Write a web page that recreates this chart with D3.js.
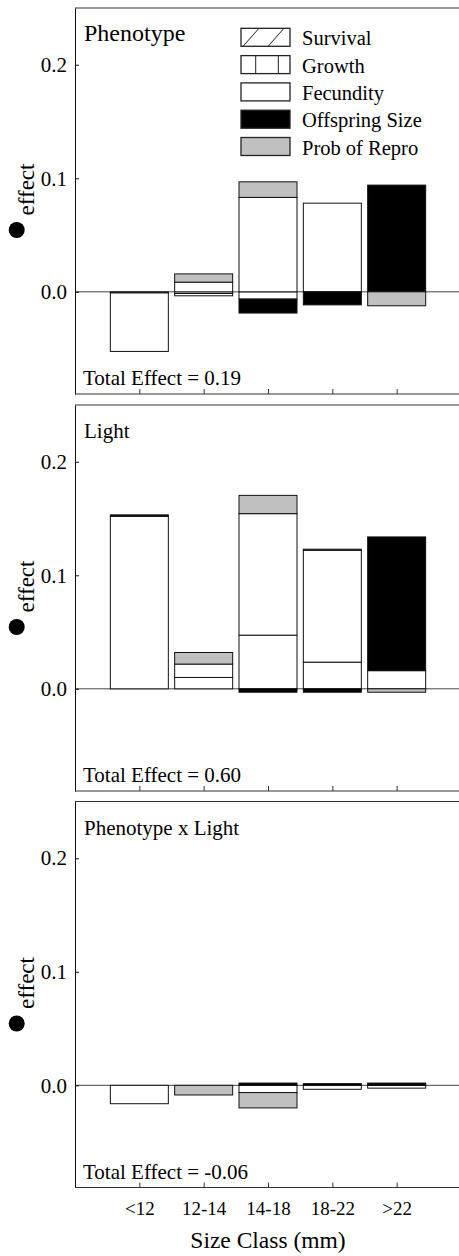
<!DOCTYPE html>
<html>
<head>
<meta charset="utf-8">
<script src="https://cdn.jsdelivr.net/npm/d3@7"></script>
<style>
  body { margin: 0; background: #fff; }
  svg, svg text { font-family: 'Liberation Serif', 'Tinos', 'Times New Roman', 'DejaVu Serif', serif; }
</style>
</head>
<body>
<div id="viz"></div>
<script>
const width = 459;
const height = 1256;
const fontStack = "'Liberation Serif', 'Tinos', 'Times New Roman', 'DejaVu Serif', serif";

// Data
const categories = ['<12', '12-14', '14-18', '18-22', '>22'];
const components = ['Survival', 'Growth', 'Fecundity', 'Offspring Size', 'Prob of Repro'];
const panelTitles = ['Phenotype', 'Light', 'Phenotype x Light'];
const totalEffects = ['0.19', '0.60', '-0.06'];
const yTicks = [0, 0.1, 0.2];

// Phenotype panel
const phenoSurvival  = [-0.001, -0.0015, 0, 0, 0];
const phenoGrowth    = [0, -0.002, -0.0064, 0, 0];
const phenoFecundity = [-0.0515, 0.0085, 0.0832, 0.0781, 0];
const phenoOffspring = [0, 0, -0.0123, -0.0115, 0.094];
const phenoRepro     = [0, 0.0073, 0.0137, 0, -0.0123];

// Light panel
const lightSurvival  = [0, 0, 0, 0, 0];
const lightGrowth    = [0, 0.010, 0.0473, 0.0235, 0];
const lightFecundity = [0.152, 0.0118, 0.107, 0.0985, 0.016];
const lightOffspring = [0.0012, 0, -0.003, -0.003, 0.1178];
const lightRepro     = [0, 0.0102, 0.0161, 0.001, -0.003];

// Phenotype x Light panel
const interSurvival  = [0, 0, 0, 0, 0];
const interGrowth    = [0, 0, 0, 0, 0];
const interFecundity = [-0.0162, 0, -0.0064, -0.0035, -0.0025];
const interOffspring = [0, 0, 0.002, 0.0015, 0.002];
const interRepro     = [0, -0.0085, -0.0135, 0, 0];

const panelSeries = [
  [phenoSurvival, phenoGrowth, phenoFecundity, phenoOffspring, phenoRepro],
  [lightSurvival, lightGrowth, lightFecundity, lightOffspring, lightRepro],
  [interSurvival, interGrowth, interFecundity, interOffspring, interRepro]
];

const fills = {
  'Survival': '#fff',
  'Growth': '#fff',
  'Fecundity': '#fff',
  'Offspring Size': '#000',
  'Prob of Repro': '#c0c0c0'
};

const panelTops = [8, 405, 801.5];
const titleSizes = [24, 21, 21];
const panelHeight = 386;
const left = 75;
const barWidth = 58;

const svg = d3.select('#viz')
  .append('svg')
  .attr('width', width)
  .attr('height', height)
  .attr('font-family', fontStack);

const x = d3.scaleLinear()
  .domain([0, 6])
  .range([left, 461]);

const stack = d3.stack()
  .keys(components)
  .offset(d3.stackOffsetDiverging);

panelSeries.forEach((series, p) => {
  const top = panelTops[p];
  const y = d3.scaleLinear()
    .domain([-0.09, 0.25])
    .range([top + panelHeight, top]);

  const g = svg.append('g');

  // top border
  g.append('line')
    .attr('x1', left).attr('x2', width)
    .attr('y1', top).attr('y2', top)
    .attr('stroke', '#333');

  // zero line
  g.append('line')
    .attr('x1', left).attr('x2', width)
    .attr('y1', y(0)).attr('y2', y(0))
    .attr('stroke', '#444');

  // bars
  const rows = categories.map((c, i) => {
    const row = {cat: c, idx: i};
    components.forEach((k, j) => { row[k] = series[j][i]; });
    return row;
  });
  const layers = stack(rows);

  g.selectAll('.layer')
    .data(layers)
    .join('g')
      .attr('class', 'layer')
      .attr('fill', d => fills[d.key])
    .selectAll('rect')
    .data(d => d.filter(s => s[0] !== s[1]))
    .join('rect')
      .attr('x', d => x(d.data.idx + 1) - barWidth / 2)
      .attr('width', barWidth)
      .attr('y', d => y(Math.max(d[0], d[1])))
      .attr('height', d => Math.abs(y(d[0]) - y(d[1])))
      .attr('stroke', '#111')
      .attr('stroke-width', 1);

  // y axis
  const yAxis = g.append('g')
    .attr('transform', `translate(${left}, 0)`)
    .call(d3.axisLeft(y)
      .tickValues(yTicks)
      .tickSize(-4)
      .tickSizeOuter(0)
      .tickPadding(8)
      .tickFormat(d3.format('.1f')));
  yAxis.attr('font-family', fontStack).attr('font-size', 21);
  yAxis.selectAll('text').attr('fill', '#000');
  yAxis.selectAll('line, path').attr('stroke', '#111');

  // x axis
  const xAxis = g.append('g')
    .attr('transform', `translate(0, ${top + panelHeight})`)
    .call(d3.axisBottom(x)
      .tickValues([1, 2, 3, 4, 5])
      .tickSize(-5)
      .tickSizeOuter(0)
      .tickPadding(14)
      .tickFormat(d => p === 2 ? categories[d - 1] : ''));
  xAxis.attr('font-family', fontStack).attr('font-size', 19);
  xAxis.select('.domain').attr('d', `M${left},0H${width}`);
  xAxis.selectAll('line, path').attr('stroke', '#333');
  xAxis.selectAll('text').attr('fill', '#000');

  // panel title and total effect
  g.append('text')
    .attr('x', 84)
    .attr('y', top + 33)
    .attr('font-size', titleSizes[p])
    .text(panelTitles[p]);

  g.append('text')
    .attr('x', 83)
    .attr('y', top + panelHeight - 9)
    .attr('font-size', 21)
    .text('Total Effect = ' + totalEffects[p]);

  // y label
  g.append('circle')
    .attr('cx', 16.7)
    .attr('cy', top + 222)
    .attr('r', 8)
    .attr('fill', '#000');
  g.append('text')
    .attr('transform', `translate(33.5, ${top + 181.5}) rotate(-90)`)
    .attr('text-anchor', 'middle')
    .attr('font-size', 23)
    .text('effect');
});

// legend (top panel)
const legend = svg.append('g');
const lgX = 241, lgY = 28.3, lgStep = 27.3, lgW = 49, lgH = 18;
components.forEach((k, i) => {
  const yy = lgY + i * lgStep;
  legend.append('rect')
    .attr('x', lgX).attr('y', yy)
    .attr('width', lgW).attr('height', lgH)
    .attr('fill', fills[k])
    .attr('stroke', '#222')
    .attr('stroke-width', 1.3);
  if (k === 'Survival') {
    [243, 268].forEach(x0 => {
      legend.append('line')
        .attr('x1', x0).attr('y1', yy + lgH)
        .attr('x2', x0 + 16).attr('y2', yy)
        .attr('stroke', '#222');
    });
  }
  if (k === 'Growth') {
    [255.7, 278.3].forEach(xx => {
      legend.append('line')
        .attr('x1', xx).attr('x2', xx)
        .attr('y1', yy).attr('y2', yy + lgH)
        .attr('stroke', '#222');
    });
  }
  legend.append('text')
    .attr('x', 302)
    .attr('y', yy + lgH - 1)
    .attr('font-size', 20.5)
    .text(k);
});

// x axis title
svg.append('text')
  .attr('x', 268)
  .attr('y', 1248)
  .attr('text-anchor', 'middle')
  .attr('font-size', 23.5)
  .text('Size Class (mm)');
</script>
</body>
</html>
